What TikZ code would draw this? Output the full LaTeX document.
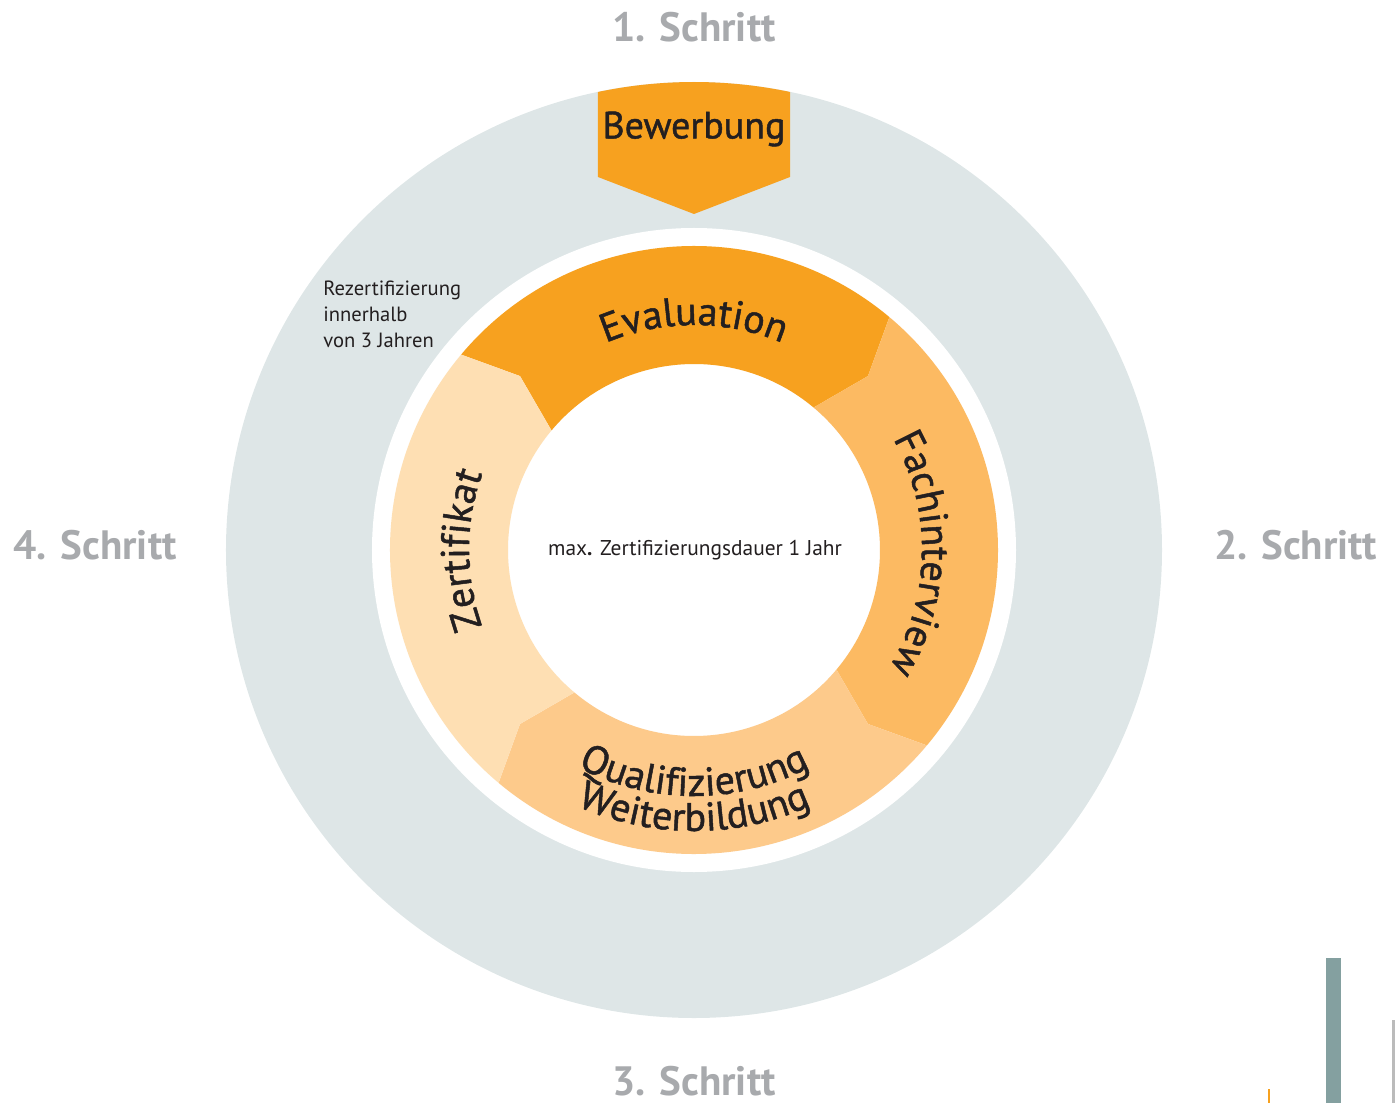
\documentclass[tikz,border=0pt]{standalone}
\usepackage{fontspec}
\setmainfont{PT Sans}
\newfontfamily\ringfont{PT Sans}[LetterSpace=10,FakeBold=1.2]
\newfontfamily\ringwidefont{PT Sans}[LetterSpace=13,FakeBold=1.2]
\newfontfamily\bewfont{PT Sans}[FakeBold=1.2]
\usetikzlibrary{decorations.text}
\definecolor{ringgray}{HTML}{DEE6E7}
\definecolor{segA}{HTML}{F7A11F}
\definecolor{segB}{HTML}{FCBA62}
\definecolor{segC}{HTML}{FDCA8B}
\definecolor{segD}{HTML}{FEDFB3}
\definecolor{stepgray}{HTML}{A8AAAD}
\definecolor{textdark}{HTML}{231F20}
\definecolor{tealbar}{HTML}{84A0A0}
\definecolor{thinline}{HTML}{BBBBBB}
\newcommand\ringseg[3]{%
  \fill[#3] (#1:304) arc[start angle=#1, end angle=#2, radius=304]
    -- ({#2-5}:246) -- (#2:186) arc[start angle=#2, end angle=#1, radius=186]
    -- ({#1-5}:246) -- cycle;}
\tikzset{
  steplabel/.style={text=stepgray, font=\fontsize{20.5pt}{22pt}\selectfont\bfseries, inner sep=0pt},
  ringtext/.style={decorate, decoration={text along path, text align=center, text color=textdark,
     text={|\ringfont\fontsize{20pt}{20pt}\selectfont|#1}}},
  ringwide/.style={decorate, decoration={text along path, text align=center, text color=textdark,
     text={|\ringwidefont\fontsize{20pt}{20pt}\selectfont|#1}}},
  smalltext/.style={text=textdark, inner sep=0pt}
}
\begin{document}
\begin{tikzpicture}[x=0.5pt,y=0.5pt]
\useasboundingbox (-694,-553) rectangle (703,550);
% rings
\fill[ringgray] (0,0) circle (468);
\fill[white] (0,0) circle (322);
\ringseg{140}{50}{segA}
\ringseg{50}{-40}{segB}
\ringseg{-40}{-130}{segC}
\ringseg{-130}{-220}{segD}
% Bewerbung
\fill[segA] (101.84:468) arc[start angle=101.84, end angle=78.16, radius=468]
  -- (96,373) -- (0,336) -- (-96,373) -- cycle;
\node[text=textdark, font=\bewfont\fontsize{19pt}{20pt}\selectfont, inner sep=0pt] (bew) at (0,421) {Bewerbung};
% curved ring labels
\path[ringtext=Evaluation] (135:225) arc[start angle=135, end angle=45, radius=225];
\path[ringtext=Fachinterview] (44:228) arc[start angle=44, end angle=-46, radius=228];
\path[ringwide=Zertifikat] (225:225) arc[start angle=225, end angle=135, radius=225];
\path[ringwide=Qualifizierung] (-135:246) arc[start angle=-135, end angle=-45, radius=246];
\path[ringwide=Weiterbildung] (-135:281) arc[start angle=-135, end angle=-45, radius=281];
% step labels
\node[steplabel] (s1) at (0,523) {1. Schritt};
\node[steplabel] (s2) at (601.5,5) {2. Schritt};
\node[steplabel] (s3) at (0,-531) {3. Schritt};
\node[steplabel] (s4) at (-599,5) {4. Schritt};
% small texts
\node[smalltext, anchor=north west, align=left, font=\fontsize{10.3pt}{13pt}\selectfont] (rez) at (-371,269)
  {Rezertifizierung\\innerhalb\\von 3 Jahren};
\node[smalltext, font=\fontsize{10.7pt}{12pt}\selectfont] (dauer) at (1,0) {max\textbf{.} Zertifizierungsdauer 1 Jahr};
% corner marks
\fill[tealbar] (632,-553) rectangle (647,-408);
\fill[thinline] (698,-553) rectangle (701,-470);
\fill[segA] (574,-553) rectangle (576,-539);
\end{tikzpicture}
\end{document}
